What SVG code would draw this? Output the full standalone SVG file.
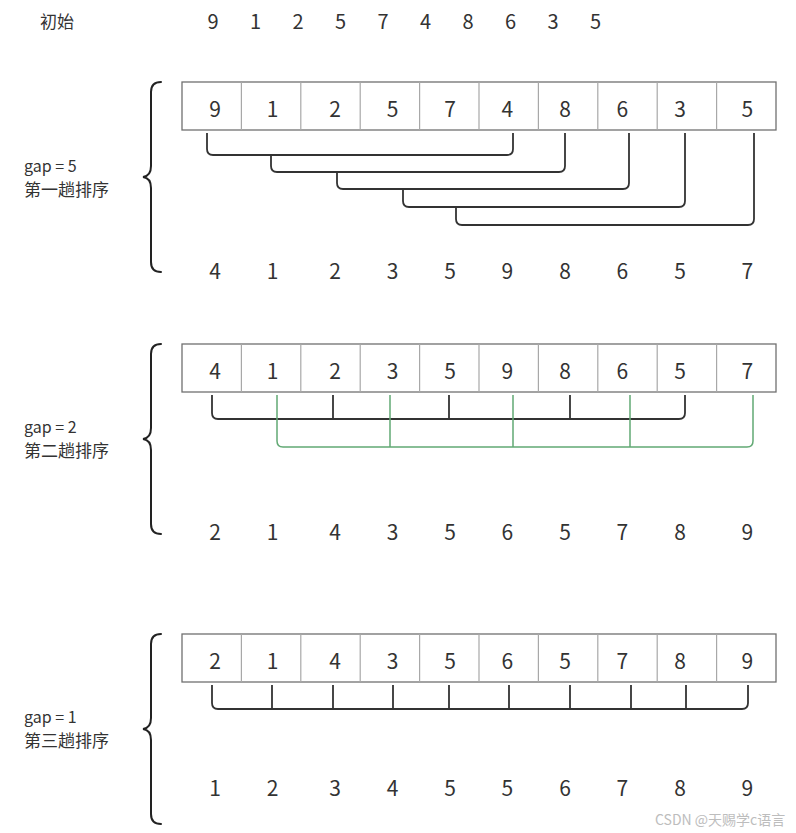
<svg xmlns="http://www.w3.org/2000/svg" width="796" height="833" viewBox="0 0 796 833">
<style>
text{font-family:"Noto Sans CJK SC","Noto Sans",sans-serif;fill:#333}
.n{font-size:21px;text-anchor:middle}
.t{font-size:20px;text-anchor:middle}
.lbl{font-size:16px}
.cjk{font-size:17px}
.box{fill:#fff;stroke:#707070;stroke-width:1.3}
.div{stroke:#a8a8a8;stroke-width:1.2}
.br{fill:none;stroke:#333;stroke-width:1.8;stroke-linejoin:round}
.g{fill:none;stroke:#62a974;stroke-width:1.5}
.brace{fill:none;stroke:#222;stroke-width:2;stroke-linecap:round}
.wm{font-size:14px;fill:#bdbdbd}
</style>
<defs>
<g id="cells">
<rect class="box" x="182" y="0" width="594" height="48"/>
<path class="div" d="M241.4,0V48M300.8,0V48M360.2,0V48M419.6,0V48M479,0V48M538.4,0V48M597.8,0V48M657.2,0V48M716.6,0V48"/>
</g>
<path id="brace" class="brace" d="M161,0 Q151,0 151,10 V84 Q151,94 143,95 Q151,96 151,106 V180 Q151,190 161,190"/>
</defs>

<g id="initial">
<text x="40" y="28" class="cjk">初始</text>
<text class="t" y="29"><tspan x="213">9</tspan><tspan x="255.5">1</tspan><tspan x="298">2</tspan><tspan x="340.5">5</tspan><tspan x="383">7</tspan><tspan x="425.5">4</tspan><tspan x="468">8</tspan><tspan x="510.5">6</tspan><tspan x="553">3</tspan><tspan x="595.5">5</tspan></text>
</g>

<g id="pass1">
<use href="#brace" x="0" y="82"/>
<text x="24" y="172" class="lbl">gap = 5</text>
<text x="24" y="196" class="cjk">第一趟排序</text>
<use href="#cells" x="0" y="82"/>
<text class="n" y="117"><tspan x="215">9</tspan><tspan x="272.7">1</tspan><tspan x="335">2</tspan><tspan x="392.7">5</tspan><tspan x="450">7</tspan><tspan x="507.3">4</tspan><tspan x="565">8</tspan><tspan x="622.3">6</tspan><tspan x="680">3</tspan><tspan x="747.3">5</tspan></text>
<text class="n" y="279"><tspan x="215">4</tspan><tspan x="272.7">1</tspan><tspan x="335">2</tspan><tspan x="392.7">3</tspan><tspan x="450">5</tspan><tspan x="507.3">9</tspan><tspan x="565">8</tspan><tspan x="622.3">6</tspan><tspan x="680">5</tspan><tspan x="747.3">7</tspan></text>
</g>

<g id="pass2">
<use href="#brace" x="0" y="344"/>
<text x="24" y="433" class="lbl">gap = 2</text>
<text x="24" y="457" class="cjk">第二趟排序</text>
<use href="#cells" x="0" y="344"/>
<text class="n" y="379"><tspan x="215">4</tspan><tspan x="272.7">1</tspan><tspan x="335">2</tspan><tspan x="392.7">3</tspan><tspan x="450">5</tspan><tspan x="507.3">9</tspan><tspan x="565">8</tspan><tspan x="622.3">6</tspan><tspan x="680">5</tspan><tspan x="747.3">7</tspan></text>
<text class="n" y="540"><tspan x="215">2</tspan><tspan x="272.7">1</tspan><tspan x="335">4</tspan><tspan x="392.7">3</tspan><tspan x="450">5</tspan><tspan x="507.3">6</tspan><tspan x="565">5</tspan><tspan x="622.3">7</tspan><tspan x="680">8</tspan><tspan x="747.3">9</tspan></text>
</g>

<g id="pass3">
<use href="#brace" x="0" y="634"/>
<text x="24" y="723" class="lbl">gap = 1</text>
<text x="24" y="747" class="cjk">第三趟排序</text>
<use href="#cells" x="0" y="634"/>
<text class="n" y="669"><tspan x="215">2</tspan><tspan x="272.7">1</tspan><tspan x="335">4</tspan><tspan x="392.7">3</tspan><tspan x="450">5</tspan><tspan x="507.3">6</tspan><tspan x="565">5</tspan><tspan x="622.3">7</tspan><tspan x="680">8</tspan><tspan x="747.3">9</tspan></text>
<text class="n" y="796"><tspan x="215">1</tspan><tspan x="272.7">2</tspan><tspan x="335">3</tspan><tspan x="392.7">4</tspan><tspan x="450">5</tspan><tspan x="507.3">5</tspan><tspan x="565">6</tspan><tspan x="622.3">7</tspan><tspan x="680">8</tspan><tspan x="747.3">9</tspan></text>
</g>

<g id="connectors">
<path class="br" d="M207,133 V149 Q207,155 213,155 H507 Q513,155 513,149 V133"/>
<path class="br" d="M271,155 V166 Q271,172 277,172 H559 Q565,172 565,166 V133"/>
<path class="br" d="M337,172 V183 Q337,189 343,189 H623 Q629,189 629,183 V133"/>
<path class="br" d="M403,189 V201 Q403,207 409,207 H679 Q685,207 685,201 V133"/>
<path class="br" d="M456,207 V219 Q456,225 462,225 H748 Q754,225 754,219 V133"/>

<path class="br" d="M212,395 V413 Q212,419 218,419 H679 Q685,419 685,413 V395 M333,395 V419 M449,395 V419 M570,395 V419"/>
<path class="g" d="M277,395 V441 Q277,447 283,447 H747 Q753,447 753,441 V395 M390,395 V447 M513,395 V447 M630,395 V447"/>

<path class="br" d="M212,685 V703 Q212,709 218,709 H742 Q748,709 748,703 V685 M272,685 V709 M333,685 V709 M393,685 V709 M449,685 V709 M509,685 V709 M570,685 V709 M631,685 V709 M686,685 V709"/>
</g>

<text x="655" y="825" class="wm">CSDN @天赐学c语言</text>
</svg>
